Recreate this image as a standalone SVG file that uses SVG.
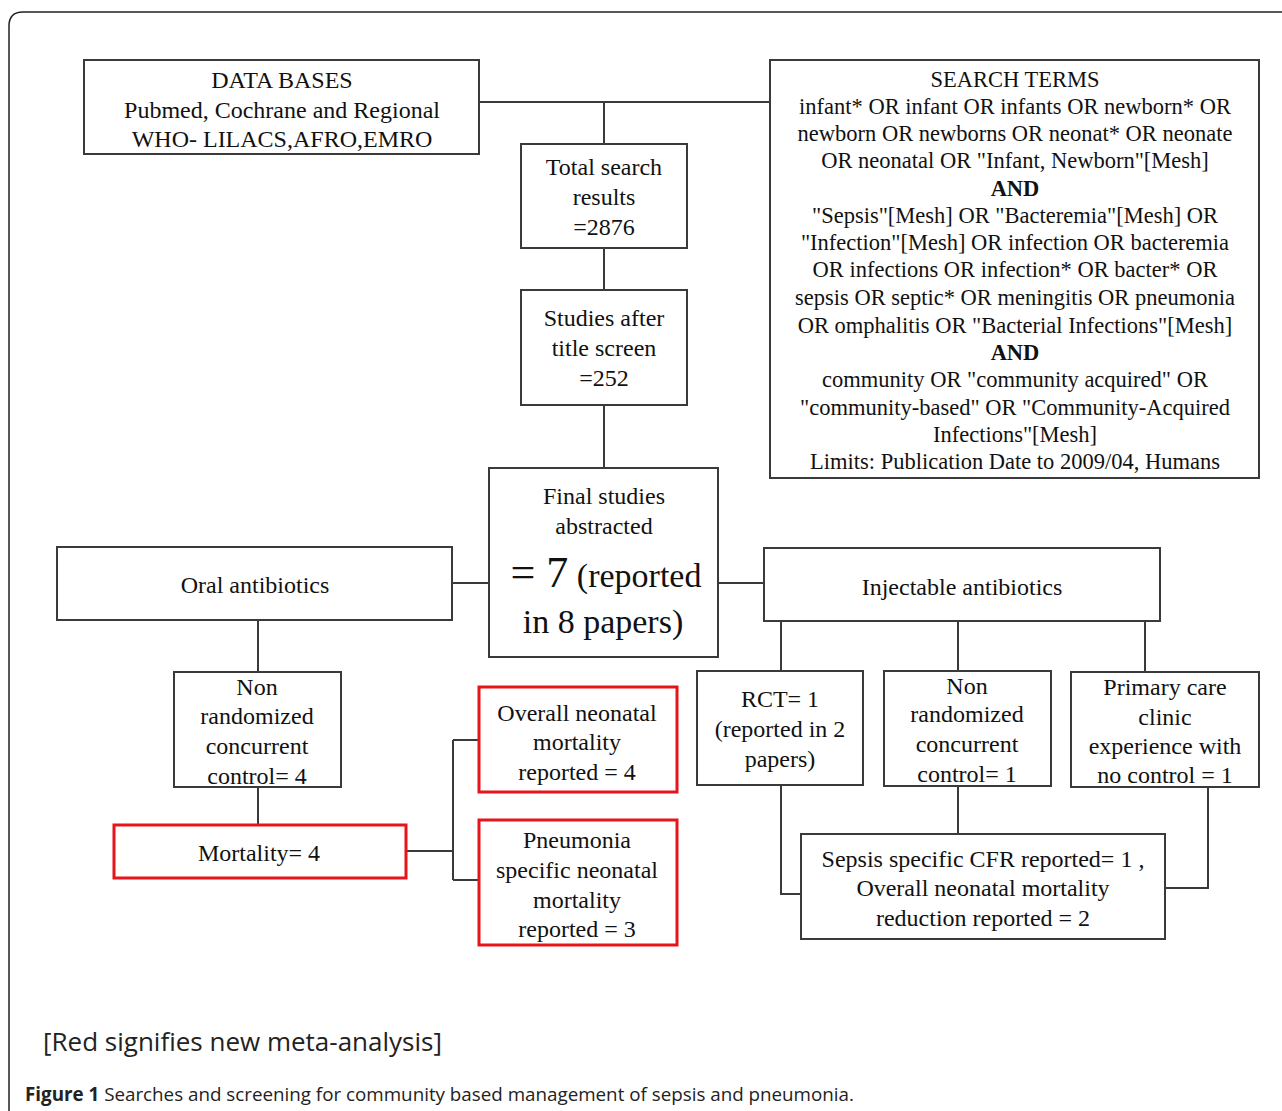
<svg xmlns="http://www.w3.org/2000/svg" width="1282" height="1111" viewBox="0 0 1282 1111">
<style>
.box{fill:#fff;stroke:#3a3a3a;stroke-width:2}
.red{fill:#fff;stroke:#e8141c;stroke-width:3}
.t{font-family:"Liberation Serif","Times New Roman",serif;font-size:24px;fill:#111;text-anchor:middle}
.s{font-size:22.5px}
.b{font-weight:bold}
.ln{fill:none;stroke:#3a3a3a;stroke-width:2}
.cap{font-family:"Open Sans","Noto Sans",sans-serif;fill:#222}
</style>
<rect width="1282" height="1111" fill="#fff"/>
<path d="M 9 1111 V 26 Q 9 12 23 12 H 1282" fill="none" stroke="#222" stroke-width="1.5"/>
<g id="connectors" class="ln">
<path d="M 479 102 H 770"/>
<path d="M 604 102 V 144"/>
<path d="M 604 248 V 290"/>
<path d="M 604 405 V 468"/>
<path d="M 452 583 H 489"/>
<path d="M 718 583 H 764"/>
<path d="M 258 620 V 672"/>
<path d="M 258 787 V 825"/>
<path d="M 406 851 H 453 M 453 740 V 880 M 453 740 H 479 M 453 880 H 479"/>
<path d="M 781 621 V 671"/>
<path d="M 958 621 V 671"/>
<path d="M 1145 621 V 672"/>
<path d="M 958 786 V 834"/>
<path d="M 781 785 V 894 H 804"/>
<path d="M 1208 782 V 888 H 1165"/>
</g>
<g id="databases"><rect class="box" x="84" y="60" width="395" height="94"/>
<text class="t" x="282" y="88">DATA BASES</text>
<text class="t" x="282" y="118">Pubmed, Cochrane and Regional</text>
<text class="t" x="282" y="147">WHO- LILACS,AFRO,EMRO</text></g>
<g id="searchterms"><rect class="box" x="770" y="60" width="489" height="418"/>
<text class="t s" x="1015" y="87">SEARCH TERMS</text>
<text class="t s" x="1015" y="114">infant* OR infant OR infants OR newborn* OR</text>
<text class="t s" x="1015" y="141">newborn OR newborns OR neonat* OR neonate</text>
<text class="t s" x="1015" y="168">OR neonatal OR  "Infant, Newborn"[Mesh]</text>
<text class="t s b" x="1015" y="196">AND</text>
<text class="t s" x="1015" y="223">"Sepsis"[Mesh] OR "Bacteremia"[Mesh] OR</text>
<text class="t s" x="1015" y="250">"Infection"[Mesh] OR infection OR bacteremia</text>
<text class="t s" x="1015" y="277">OR infections OR infection* OR bacter* OR</text>
<text class="t s" x="1015" y="305">sepsis OR septic* OR meningitis OR pneumonia</text>
<text class="t s" x="1015" y="333">OR omphalitis OR "Bacterial Infections"[Mesh]</text>
<text class="t s b" x="1015" y="360">AND</text>
<text class="t s" x="1015" y="387">community OR "community acquired" OR</text>
<text class="t s" x="1015" y="415">"community-based" OR "Community-Acquired</text>
<text class="t s" x="1015" y="442">Infections"[Mesh]</text>
<text class="t s" x="1015" y="469">Limits: Publication Date  to 2009/04, Humans</text></g>
<g id="total"><rect class="box" x="521" y="144" width="166" height="104"/>
<text class="t" x="604" y="175">Total search</text>
<text class="t" x="604" y="205">results</text>
<text class="t" x="604" y="235">=2876</text></g>
<g id="title"><rect class="box" x="521" y="290" width="166" height="115"/>
<text class="t" x="604" y="326">Studies after</text>
<text class="t" x="604" y="356">title screen</text>
<text class="t" x="604" y="386">=252</text></g>
<g id="final"><rect class="box" x="489" y="468" width="229" height="189"/>
<text class="t" x="604" y="504">Final studies</text>
<text class="t" x="604" y="534">abstracted</text>
<text class="t" x="606" y="587" style="font-size:34px"><tspan style="font-size:44px">= 7</tspan>  (reported</text>
<text class="t" x="603" y="633" style="font-size:34px">in 8 papers)</text></g>
<g id="oral"><rect class="box" x="57" y="547" width="395" height="73"/>
<text class="t" x="255" y="593">Oral antibiotics</text></g>
<g id="injectable"><rect class="box" x="764" y="548" width="396" height="73"/>
<text class="t" x="962" y="595">Injectable antibiotics</text></g>
<g id="nonrand-left"><rect class="box" x="174" y="672" width="167" height="115"/>
<text class="t" x="257" y="695">Non</text>
<text class="t" x="257" y="724">randomized</text>
<text class="t" x="257" y="754">concurrent</text>
<text class="t" x="257" y="784">control= 4</text></g>
<g id="mortality"><rect class="red" x="114" y="825" width="292" height="53"/>
<text class="t" x="259" y="861">Mortality= 4</text></g>
<g id="overall"><rect class="red" x="479" y="687" width="198" height="105"/>
<text class="t" x="577" y="721">Overall neonatal</text>
<text class="t" x="577" y="750">mortality</text>
<text class="t" x="577" y="780">reported = 4</text></g>
<g id="pneumonia"><rect class="red" x="479" y="820" width="198" height="125"/>
<text class="t" x="577" y="848">Pneumonia</text>
<text class="t" x="577" y="878">specific neonatal</text>
<text class="t" x="577" y="908">mortality</text>
<text class="t" x="577" y="937">reported = 3</text></g>
<g id="rct"><rect class="box" x="697" y="671" width="166" height="114"/>
<text class="t" x="780" y="707">RCT= 1</text>
<text class="t" x="780" y="737">(reported in 2</text>
<text class="t" x="780" y="767">papers)</text></g>
<g id="nonrand-right"><rect class="box" x="884" y="671" width="167" height="115"/>
<text class="t" x="967" y="694">Non</text>
<text class="t" x="967" y="722">randomized</text>
<text class="t" x="967" y="752">concurrent</text>
<text class="t" x="967" y="782">control= 1</text></g>
<g id="primary"><rect class="box" x="1071" y="672" width="188" height="115"/>
<text class="t" x="1165" y="695">Primary care</text>
<text class="t" x="1165" y="725">clinic</text>
<text class="t" x="1165" y="754">experience with</text>
<text class="t" x="1165" y="783">no control = 1</text></g>
<g id="sepsis"><rect class="box" x="801" y="834" width="364" height="105"/>
<text class="t" x="983" y="867">Sepsis specific CFR reported= 1 ,</text>
<text class="t" x="983" y="896">Overall neonatal mortality</text>
<text class="t" x="983" y="926">reduction reported = 2</text></g>
<text class="cap" x="43" y="1051" style="font-size:26px">[Red signifies new meta-analysis]</text>
<text class="cap" x="25" y="1101" style="font-size:18.8px"><tspan font-weight="bold">Figure 1</tspan> Searches and screening for community based management of sepsis and pneumonia.</text>
</svg>
